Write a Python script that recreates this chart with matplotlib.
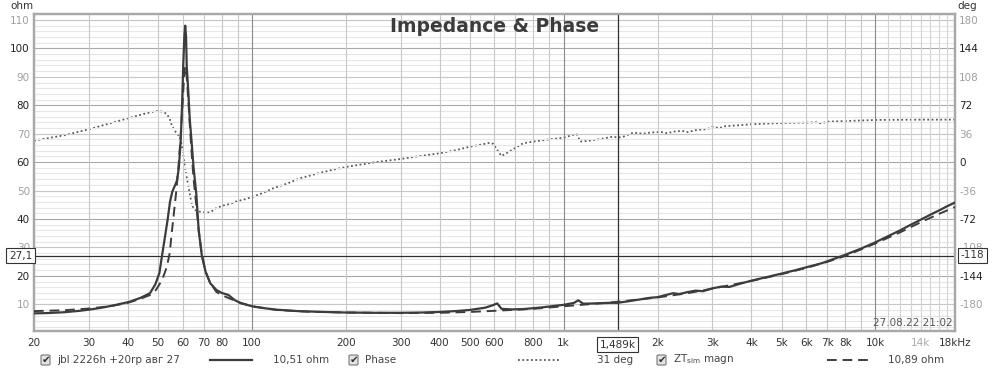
import matplotlib
matplotlib.use("Agg")
import matplotlib.pyplot as plt
import matplotlib.transforms as mtransforms
from matplotlib.patches import FancyBboxPatch
from matplotlib.lines import Line2D

# ---------------- data ----------------
imp_freq = [20, 22, 25, 28, 30, 33, 36, 40.6, 44, 47.1, 49, 50.5, 51.3, 52.5, 53.7, 54.6,
            55.5, 56.5, 57.5, 58.3, 59.1, 59.7, 60.2, 60.7, 61.1, 61.5, 61.8, 62.5, 63.2,
            64, 65, 66.3, 67.5, 69.1, 71, 73.5, 77, 80, 84, 88, 92, 101, 110, 120, 140,
            170, 200, 250, 300, 350, 400, 450, 500, 560, 590, 612, 632, 680, 740, 850,
            1000, 1080, 1114, 1155, 1250, 1400, 1489, 1600, 1756, 1900, 2000, 2100, 2245,
            2350, 2500, 2650, 2800, 3000, 3200, 3400, 3700, 4000, 4500, 5000, 5500, 6000,
            6500, 6700, 7000, 8000, 9000, 10000, 11000, 12000, 13000, 14000, 15000, 16000,
            17000, 18000]
imp_ohm = [6.8, 6.9, 7.2, 7.7, 8.1, 8.8, 9.6, 10.9, 12.3, 13.9, 17.0, 21.0, 26.0, 33.0,
           40.0, 46.0, 49.5, 51.5, 53.5, 58.0, 67.7, 80.0, 93.6, 104.0, 108.0, 104.0, 93.6,
           85.0, 75.0, 67.7, 58.0, 49.0, 36.0, 27.0, 21.5, 17.4, 15.0, 14.0, 13.3, 11.5,
           10.4, 9.2, 8.6, 8.1, 7.6, 7.3, 7.1, 7.0, 7.0, 7.1, 7.3, 7.6, 8.0, 8.8, 9.6, 10.3,
           8.4, 8.2, 8.3, 8.9, 9.8, 10.5, 11.4, 10.2, 10.3, 10.5, 10.51, 11.0, 11.7, 12.3,
           12.5, 13.1, 13.9, 13.6, 14.3, 14.8, 14.6, 15.6, 16.2, 16.1, 17.3, 18.3, 19.6,
           20.8, 21.9, 23.0, 24.0, 24.4, 25.1, 27.4, 29.6, 31.8, 34.0, 36.0, 38.0, 39.8,
           41.5, 43.0, 44.5, 45.8]

sim_freq = [20, 25, 30, 35, 40, 44, 47, 49.2, 51.5, 53.3, 54.5, 55.3, 56.2, 57.1, 58, 59,
            60, 60.6, 61.1, 61.7, 62.5, 63.3, 64, 65, 66.3, 67.5, 69, 71, 73.5, 77, 80, 85,
            92, 100, 120, 150, 200, 300, 400, 500, 600, 800, 1000, 1200, 1489, 2000, 2500,
            3000, 4000, 5000, 6000, 7000, 8000, 10000, 12000, 14000, 16000, 18000]
sim_ohm = [7.6, 7.9, 8.5, 9.3, 10.5, 12.0, 13.2, 15.0, 18.5, 23.0, 28.0, 35.0, 42.0, 49.0,
           57.0, 68.0, 82.0, 90.0, 93.6, 91.0, 82.0, 72.0, 64.0, 54.0, 45.0, 36.0, 28.0,
           21.5, 17.5, 14.3, 13.2, 12.0, 10.5, 9.3, 8.0, 7.4, 7.1, 6.9, 7.0, 7.3, 7.7, 8.4,
           9.3, 10.0, 10.89, 12.4, 13.9, 15.5, 18.2, 20.6, 22.8, 24.9, 27.0, 31.4, 35.3,
           38.9, 41.8, 44.2]

ph_freq = [20, 25, 30, 35, 40, 45, 48.3, 50.3, 52, 53.3, 54.5, 55.3, 56.5, 58, 59.1, 60,
           60.5, 61.5, 62.6, 63.5, 64.6, 66, 68.1, 71, 73.5, 77, 81.9, 85, 88.7, 95, 101,
           110, 117.2, 130, 142.6, 165.9, 185, 203, 250, 300, 350, 400, 450, 500, 550, 580,
           595, 615, 632, 660, 700, 740, 800, 903, 1000, 1087, 1105, 1130, 1200, 1300,
           1441, 1489, 1550, 1669, 1800, 1900, 2050, 2150, 2245, 2400, 2500, 2650, 2900,
           3000, 3150, 3300, 3600, 4000, 4500, 5000, 6000, 6500, 6700, 7000, 8000, 10000,
           14000, 18000]
ph_deg = [27.2, 34, 41.6, 49, 55.5, 61, 63.9, 64.8, 63.5, 61, 55, 47, 40, 34.4, 28, 15,
          2.7, -15, -31, -45, -56.4, -61, -62.7, -64, -63.5, -58, -54.3, -53, -50, -47,
          -43.7, -38, -33, -27, -20.5, -13.4, -9, -5.7, 0, 4, 8, 11.2, 15, 19.6, 22.5,
          24.7, 23, 14, 7.8, 12, 18, 23.8, 26, 28.9, 31, 35.2, 35, 26, 27, 29, 32.3, 31,
          32, 37.3, 36, 37.5, 38.2, 36.5, 38.6, 39.5, 38, 40.5, 42, 45, 43, 45.5, 46.5, 48,
          48.8, 49.5, 50, 50.5, 49, 51.2, 52, 53.4, 53.8, 53.8]

x_ticks = [20, 30, 40, 50, 60, 70, 80, 100, 200, 300, 400, 500, 600, 800, 1000, 2000,
           3000, 4000, 5000, 6000, 7000, 8000, 10000, 14000, 18000]
x_labels = ["20", "30", "40", "50", "60", "70", "80", "100", "200", "300", "400", "500",
            "600", "800", "1k", "2k", "3k", "4k", "5k", "6k", "7k", "8k", "10k", "14k",
            "18kHz"]
ohm_ticks = [10, 20, 30, 40, 50, 60, 70, 80, 90, 100, 110]
deg_ticks = [-180, -144, -108, -72, -36, 0, 36, 72, 108, 144, 180]

cursor_freq = 1489
cursor_ohm = 27.1
cursor_deg = -118

legend_imp = "jbl 2226h +20rp авг 27"
legend_imp_val = "10,51 ohm"
legend_ph = "Phase"
legend_ph_val = "31 deg"
legend_sim = "ZT$_{\\mathrm{sim}}$ magn"
legend_sim_val = "10,89 ohm"

# ---------------- figure ----------------
W, H = 1000, 372
fig = plt.figure(figsize=(W / 100, H / 100), dpi=100)
fig.patch.set_facecolor("white")

def fx(px):
    return px / W

def fy(py):
    return 1 - py / H

ax = fig.add_axes([fx(34), fy(331), fx(955) - fx(34), fy(14) - fy(331)])
ax.set_xscale("log")
ax.set_xlim(20, 18000)
ylo, yhi = 0.6, 112.1
ax.set_ylim(ylo, yhi)
ax2 = ax.twinx()
ax2.set_ylim((ylo - 60) * 3.6, (yhi - 60) * 3.6)

# grid
for v in range(2, 112, 2):
    if v % 20 == 0:
        c, z = "#a8a8a8", 0.3
    elif v % 10 == 0:
        c, z = "#c6c6c6", 0.2
    else:
        c, z = "#e6e6e6", 0.1
    ax.axhline(v, color=c, lw=0.8, zorder=z)
for d in [10, 100, 1000]:
    for m in range(1, 10):
        f = m * d
        if 20 < f < 18000:
            ax.axvline(f, color="#8a8a8a" if m == 1 else "#c8c8c8", lw=0.8, zorder=0.3)
ax.axvline(10000, color="#8a8a8a", lw=0.8, zorder=0.3)
for f in range(11000, 18000, 1000):
    ax.axvline(f, color="#d4d4d4", lw=0.8, zorder=0.3)

# cursor lines
ax.axhline(cursor_ohm, color="#303030", lw=0.9, zorder=1)
ax.axvline(cursor_freq, color="#303030", lw=0.9, zorder=1)

# data
ax2.plot(ph_freq, ph_deg, color="#5a5a5a", lw=1.3, linestyle=(0, (1, 1.4)), zorder=3)
ax.plot(sim_freq, sim_ohm, color="#3c3c3c", lw=1.4, linestyle=(0, (5, 3)), zorder=4)
ax.plot(imp_freq, imp_ohm, color="#3c3c3c", lw=1.6, zorder=5)
ax.set_zorder(2)
ax2.set_zorder(1)
ax.patch.set_visible(False)

# ticks
ax.set_xticks(x_ticks)
ax.set_xticklabels(x_labels)
ax.xaxis.set_minor_locator(matplotlib.ticker.NullLocator())
ax.set_yticks(ohm_ticks)
ax.set_yticklabels([str(v) for v in ohm_ticks])
ax2.set_yticks(deg_ticks)
ax2.set_yticklabels([str(v) for v in deg_ticks])
ax.tick_params(axis="both", length=0, labelsize=7.5)
ax.tick_params(axis="x", pad=5)
ax.tick_params(axis="y", pad=3)
ax2.tick_params(axis="y", length=0, labelsize=7.5, pad=3)
for lbl, t in zip(ax.get_xticklabels(), x_labels):
    lbl.set_color("#aaaaaa" if t == "14k" else "#333333")
for lbl, v in zip(ax.get_yticklabels(), ohm_ticks):
    lbl.set_color("#222222" if v % 20 == 0 else "#a0a0a0")
for lbl, v in zip(ax2.get_yticklabels(), deg_ticks):
    lbl.set_color("#222222" if v % 72 == 0 else "#a0a0a0")

for a in (ax, ax2):
    for s in a.spines.values():
        s.set_color("#a8a8a8")
        s.set_linewidth(1.6)

# cursor boxes
box = dict(boxstyle="square,pad=0.25", facecolor="white", edgecolor="#333333", lw=0.8)
tl = mtransforms.blended_transform_factory(ax.transAxes, ax.transData)
ax.text(-0.002, cursor_ohm, "27,1", transform=tl, ha="right", va="center",
        fontsize=7.5, color="#333333", bbox=box, zorder=10, clip_on=False)
tr = mtransforms.blended_transform_factory(ax2.transAxes, ax2.transData)
ax2.text(1.006, cursor_deg, "-118", transform=tr, ha="left", va="center",
         fontsize=7.5, color="#333333", bbox=box, zorder=10, clip_on=False)
tb = mtransforms.blended_transform_factory(ax.transData, ax.transAxes)
ax.text(cursor_freq, -0.028, "1,489k", transform=tb, ha="center", va="top",
        fontsize=7.5, color="#333333", bbox=box, zorder=10, clip_on=False)

# texts
fig.text(fx(494.5), fy(27), "Impedance & Phase", ha="center", va="center",
         fontsize=13.5, fontweight="bold", color="#3c3c3c")
fig.text(fx(22), fy(6), "ohm", ha="center", va="center", fontsize=7.5, color="#333333")
fig.text(fx(967), fy(6), "deg", ha="center", va="center", fontsize=7.5, color="#333333")
fig.text(fx(953), fy(323), "27.08.22 21:02", ha="right", va="center", fontsize=7.5,
         color="#555555", zorder=10)

# legend row
ly = 360

def checkbox(x):
    p = FancyBboxPatch((fx(x), fy(ly + 5)), fx(9), 10 / H,
                       boxstyle="round,pad=0,rounding_size=0.002",
                       transform=fig.transFigure, facecolor="#e4e4e4",
                       edgecolor="#777777", lw=0.8)
    fig.patches.append(p)
    fig.text(fx(x + 4.7), fy(ly), "✔", ha="center", va="center", fontsize=7.5,
             color="#303030")

checkbox(41)
fig.text(fx(57), fy(ly), legend_imp, ha="left", va="center", fontsize=7.5, color="#444444")
fig.lines.append(Line2D([fx(210), fx(252)], [fy(ly), fy(ly)], transform=fig.transFigure,
                        color="#3c3c3c", lw=1.6))
fig.text(fx(273), fy(ly), legend_imp_val, ha="left", va="center", fontsize=7.5,
         color="#444444")
checkbox(349)
fig.text(fx(365), fy(ly), legend_ph, ha="left", va="center", fontsize=7.5, color="#444444")
fig.lines.append(Line2D([fx(518), fx(559)], [fy(ly), fy(ly)], transform=fig.transFigure,
                        color="#5a5a5a", lw=1.3, linestyle=(0, (1, 1.4))))
fig.text(fx(597), fy(ly), legend_ph_val, ha="left", va="center", fontsize=7.5,
         color="#444444")
checkbox(657)
fig.text(fx(673), fy(ly - 1), legend_sim, ha="left", va="center", fontsize=7.5,
         color="#444444")
fig.lines.append(Line2D([fx(827), fx(868)], [fy(ly), fy(ly)], transform=fig.transFigure,
                        color="#3c3c3c", lw=1.4, linestyle=(0, (5, 3))))
fig.text(fx(888), fy(ly), legend_sim_val, ha="left", va="center", fontsize=7.5,
         color="#444444")

fig.savefig("out.png", dpi=100, facecolor="white")
